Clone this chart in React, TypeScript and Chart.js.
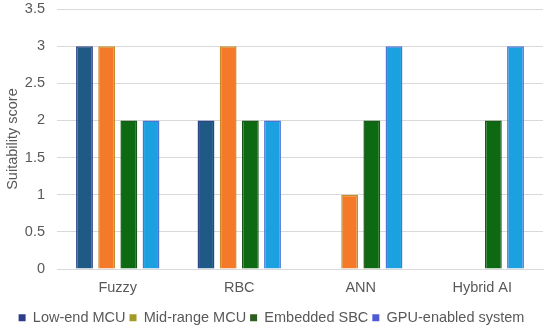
import React, { useEffect, useRef } from "react";
import { Chart, registerables } from "chart.js";

Chart.register(...registerables);

const categories = ["Fuzzy", "RBC", "ANN", "Hybrid AI"];
const seriesNames = ["Low-end MCU", "Mid-range MCU", "Embedded SBC", "GPU-enabled system"];
const lowEndMCU = [3, 2, 0, 0];
const midRangeMCU = [3, 3, 1, 0];
const embeddedSBC = [2, 2, 2, 2];
const gpuSystem = [2, 2, 3, 3];
const barFills = ["#1F5A86", "#F47A2A", "#0E6A12", "#1BA0E0"];
const barBorders = ["#2B4489", "#C98E2C", "#1A5A18", "#4A74D6"];
const legendSwatches = ["#2F3C8C", "#A39A28", "#2E5E1E", "#4F5BD5"];

const FONT = "'Liberation Sans', Arial, sans-serif";
const GREY = "#595959";
const FS = 14.5;

export default function App() {
  const ref = useRef<HTMLCanvasElement | null>(null);
  useEffect(() => {
    document.body.style.margin = "0";
    const values = [lowEndMCU, midRangeMCU, embeddedSBC, gpuSystem];
    const chart = new Chart(ref.current as HTMLCanvasElement, {
      type: "bar",
      data: {
        labels: categories,
        datasets: seriesNames.map((name, i) => ({
          label: name,
          data: values[i],
          backgroundColor: barFills[i],
          borderColor: barBorders[i],
          borderWidth: { left: 1.5, right: 1.5, top: 1.5, bottom: 0 },
          categoryPercentage: 0.73,
          barPercentage: 0.76,
        })),
      },
      options: {
        animation: false,
        responsive: false,
        maintainAspectRatio: false,
        layout: { padding: { top: 9, right: 7, left: 0, bottom: -6 } },
        plugins: {
          tooltip: { enabled: false },
          legend: {
            position: "bottom",
            labels: {
              font: { family: FONT, size: FS },
              color: GREY,
              boxWidth: 7,
              boxHeight: 7,
              padding: 4,
              generateLabels: () =>
                seriesNames.map((n, i) => ({
                  text: n,
                  fillStyle: legendSwatches[i],
                  strokeStyle: legendSwatches[i],
                  lineWidth: 0,
                  datasetIndex: i,
                  hidden: false,
                  fontColor: GREY,
                })),
            },
          },
        },
        scales: {
          x: {
            grid: { display: false, drawTicks: false },
            border: { display: true, color: "#D9D9D9", width: 1 },
            ticks: { font: { family: FONT, size: FS }, color: GREY, padding: 10 },
          },
          y: {
            min: 0,
            max: 3.5,
            afterFit: (s: any) => {
              s.width = 57;
              s.paddingTop = 0;
              s.paddingBottom = 0;
            },
            grid: { color: "#D9D9D9", drawTicks: false, lineWidth: 1 },
            border: { display: false },
            ticks: {
              stepSize: 0.5,
              font: { family: FONT, size: FS },
              color: GREY,
              padding: 12,
              callback: (v: any) => String(Number(v)),
            },
            title: {
              display: true,
              text: "Suitability score",
              font: { family: FONT, size: FS },
              color: GREY,
              padding: { top: 4, bottom: 0 },
            },
          },
        },
      },
    });
    return () => chart.destroy();
  }, []);
  return (
    <div style={{ width: 550, height: 329, position: "relative", background: "#fff" }}>
      <canvas ref={ref} width={550} height={329} />
    </div>
  );
}
